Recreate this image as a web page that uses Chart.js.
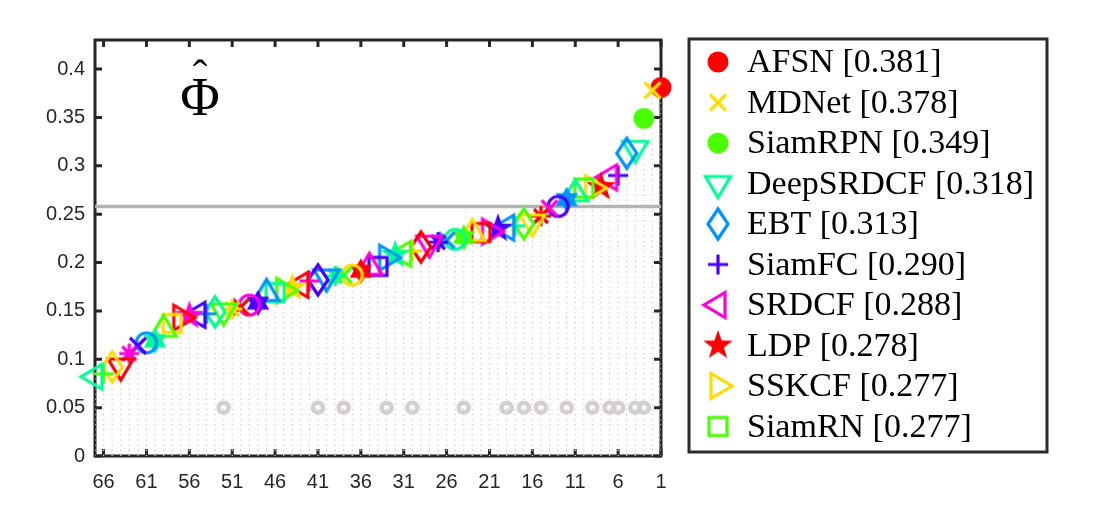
<!DOCTYPE html>
<html><head><meta charset="utf-8">
<script src="https://cdn.jsdelivr.net/npm/chart.js@4"></script>
<style>html,body{margin:0;padding:0;background:#fff;overflow:hidden}#wrap{width:1115px;height:511px;position:relative}</style>
</head><body><div id="wrap"><canvas id="c" width="1115" height="511"></canvas></div>
<script>
// ---------------- data ----------------
const trackerNames = ['AFSN','MDNet','SiamRPN','DeepSRDCF','EBT','SiamFC','SRDCF','LDP','SSKCF','SiamRN'];
// expected average overlap, sorted by rank (rank = position + 1)
const scores = [
  0.381,0.378,0.349,0.318,0.313,0.290,0.288,0.278,0.277,0.277,
  0.271,0.265,0.258,0.256,0.248,0.242,0.240,0.238,0.236,0.235,
  0.232,0.231,0.230,0.226,0.224,0.223,0.221,0.220,0.216,0.212,
  0.209,0.208,0.205,0.196,0.195,0.191,0.187,0.187,0.186,0.185,
  0.182,0.181,0.177,0.174,0.171,0.169,0.168,0.158,0.156,0.154,
  0.152,0.150,0.149,0.147,0.146,0.145,0.143,0.137,0.131,0.119,
  0.117,0.114,0.106,0.093,0.092,0.085,0.082
];
const publishedRanks = [52,41,38,33,30,24,19,17,15,12,9,7,6,4,3];
const publishedLevel = 0.05;
const boundLevel = 0.258;
const xTickValues = [66,61,56,51,46,41,36,31,26,21,16,11,6,1];
const xRange = [1, 67];
const yRange = [0, 0.43];
const yStep = 0.05;

// ---------------- styles ----------------
const shapeCycle = ['o','x','*','v','d','+','<','p','>','s','^','h'];
const colorCycle = ['#ff0000','#ffdb00','#49ff00','#00ff92','#0092ff','#4900ff','#ff00db'];
const shapeOverride = {0:'O', 2:'O'};
const axisColor = '#262626';

function makeMarker(shape, color){
  const S = 44, c = S/2;
  const cv = document.createElement('canvas'); cv.width = S; cv.height = S;
  const g = cv.getContext('2d');
  g.strokeStyle = color; g.fillStyle = color; g.lineWidth = 3.2; g.lineJoin = 'miter'; g.lineCap = 'butt';
  g.translate(c, c);
  const poly = (pts, fill) => { g.beginPath(); pts.forEach((p,i)=> i ? g.lineTo(p[0],p[1]) : g.moveTo(p[0],p[1])); g.closePath(); if (fill) g.fill(); else g.stroke(); };
  const star = (n, ro, ri) => { const pts = []; for (let k = 0; k < 2*n; k++){ const r = k%2 ? ri : ro; const a = -Math.PI/2 + k*Math.PI/n; pts.push([r*Math.cos(a), r*Math.sin(a)]); } return pts; };
  switch (shape){
    case 'o': g.beginPath(); g.arc(0,0,10,0,2*Math.PI); g.stroke(); break;
    case 'O': g.beginPath(); g.arc(0,0,10.5,0,2*Math.PI); g.fill(); break;
    case 'x': g.beginPath(); g.moveTo(-8,-8); g.lineTo(8,8); g.moveTo(8,-8); g.lineTo(-8,8); g.stroke(); break;
    case '+': g.beginPath(); g.moveTo(-10,0); g.lineTo(10,0); g.moveTo(0,-10); g.lineTo(0,10); g.stroke(); break;
    case '*': g.beginPath(); g.moveTo(-10,0); g.lineTo(10,0); g.moveTo(0,-10); g.lineTo(0,10);
              g.moveTo(-7,-7); g.lineTo(7,7); g.moveTo(7,-7); g.lineTo(-7,7); g.stroke(); break;
    case 'v': poly([[-12.5,-7],[12.5,-7],[0,14]]); break;
    case '^': poly([[-12.5,7],[12.5,7],[0,-14]]); break;
    case '<': poly([[7,-12.5],[7,12.5],[-14,0]]); break;
    case '>': poly([[-7,-12.5],[-7,12.5],[14,0]]); break;
    case 'd': poly([[0,-15],[10,0],[0,15],[-10,0]]); break;
    case 's': g.strokeRect(-9,-9,18,18); break;
    case 'p': poly(star(5,15.5,6.2), true); break;
    case 'h': poly(star(6,13,7.5), true); break;
  }
  return cv;
}
const markers = scores.map((s,i) => makeMarker(shapeOverride[i] || shapeCycle[i % shapeCycle.length], colorCycle[i % colorCycle.length]));

const trackerPoints = scores.map((s,i) => ({x: i+1, y: s}));
const stemPoints = [];
scores.forEach((s,i) => { stemPoints.push({x:i+1,y:0},{x:i+1,y:s},{x:i+1,y:null}); });
const publishedPoints = publishedRanks.map(r => ({x: r, y: publishedLevel}));
const boundPoints = [{x: xRange[0], y: boundLevel},{x: xRange[1], y: boundLevel}];

// ---------------- plugins ----------------
const framePlugin = {
  id: 'frame',
  beforeDatasetsDraw(chart){
    const {ctx, chartArea: a, scales: {x, y}} = chart;
    ctx.save();
    ctx.strokeStyle = axisColor; ctx.lineWidth = 3; ctx.lineCap = 'butt';
    const tl = 7;
    ctx.beginPath();
    xTickValues.forEach(v => { const px = x.getPixelForValue(v);
      ctx.moveTo(px, a.bottom); ctx.lineTo(px, a.bottom - tl);
      ctx.moveTo(px, a.top); ctx.lineTo(px, a.top + tl); });
    for (let v = 0; v <= yRange[1] + 1e-9; v += yStep){ const py = y.getPixelForValue(v);
      ctx.moveTo(a.left, py); ctx.lineTo(a.left + tl, py);
      ctx.moveTo(a.right, py); ctx.lineTo(a.right - tl, py); }
    ctx.stroke();
    ctx.strokeRect(a.left, a.top, a.right - a.left, a.bottom - a.top);
    ctx.restore();
  },
  afterDraw(chart){
    const {ctx} = chart;
    ctx.save();
    // symbol in the plot
    ctx.fillStyle = '#000';
    ctx.textAlign = 'center'; ctx.textBaseline = 'alphabetic';
    ctx.font = '54px "Liberation Serif", serif';
    ctx.fillText('\u03A6', 200, 115);
    ctx.font = '44px "Liberation Serif", serif';
    ctx.fillText('\u02C6', 200, 90);
    // legend
    const bx = 689, by = 39, bw = 358, bh = 413;
    ctx.fillStyle = '#fff'; ctx.fillRect(bx, by, bw, bh);
    ctx.strokeStyle = '#2b2b2b'; ctx.lineWidth = 3; ctx.strokeRect(bx, by, bw, bh);
    ctx.fillStyle = '#000';
    ctx.font = '34px "Liberation Serif", serif';
    ctx.textAlign = 'left';
    trackerNames.forEach((name, i) => {
      const base = 72 + i * 40.5;
      const m = markers[i];
      ctx.drawImage(m, 718 - m.width/2, base - 10 - m.height/2);
      ctx.fillText(name + ' [' + scores[i].toFixed(3) + ']', 747, base);
    });
    ctx.restore();
  }
};

const tickFont = {family: '"Liberation Sans", Arial, sans-serif', size: 20};

new Chart(document.getElementById('c'), {
  type: 'scatter',
  data: { datasets: [
    { label: 'trackers', data: trackerPoints, pointStyle: ctx => markers[ctx.dataIndex],
      pointRadius: 10, pointHoverRadius: 10, showLine: false, clip: false },
    { label: 'published', data: publishedPoints, pointStyle: 'circle', pointRadius: 5,
      pointBorderWidth: 4.5, pointBorderColor: '#d4cfcc', pointBackgroundColor: 'rgba(0,0,0,0)', showLine: false },
    { label: 'bound', data: boundPoints, showLine: true, borderColor: '#b3b3b3', borderWidth: 3.5, pointRadius: 0 },
    { label: 'stems', data: stemPoints, showLine: true, spanGaps: false, borderColor: '#cdcdcd', borderWidth: 1.3,
      borderDash: [1.3, 3.8], pointRadius: 0 }
  ]},
  options: {
    responsive: false, animation: false, events: [],
    layout: { padding: { top: 40, right: 1115 - 661, left: 0, bottom: 0 } },
    plugins: { legend: { display: false }, tooltip: { enabled: false } },
    scales: {
      x: { type: 'linear', min: xRange[0], max: xRange[1], reverse: true,
           grid: { display: false, drawTicks: false }, border: { display: false },
           ticks: { font: tickFont, color: axisColor, padding: 14, autoSkip: false, maxRotation: 0, minRotation: 0 },
           afterBuildTicks: s => { s.ticks = xTickValues.map(v => ({value: v})); },
           afterFit: s => { s.height = 511 - 456; } },
      y: { type: 'linear', min: yRange[0], max: yRange[1],
           grid: { display: false, drawTicks: false }, border: { display: false },
           ticks: { stepSize: yStep, includeBounds: false, font: tickFont, color: axisColor, padding: 10,
                    callback: v => String(Number(v.toFixed(3))) },
           afterFit: s => { s.width = 95; } }
    }
  },
  plugins: [framePlugin]
});
</script></body></html>
